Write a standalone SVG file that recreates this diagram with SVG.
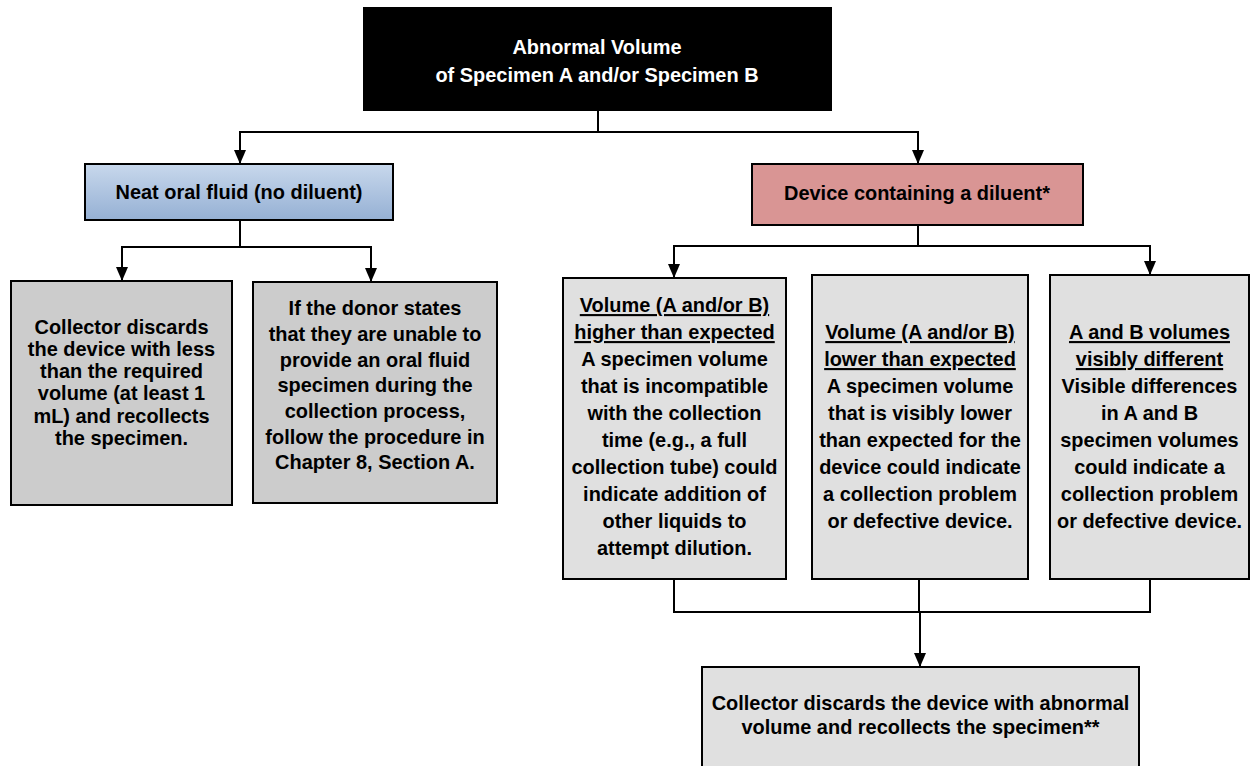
<svg xmlns="http://www.w3.org/2000/svg" width="1256" height="766" viewBox="0 0 1256 766">
<style>
.box{stroke:#000;stroke-width:2}
.t{font-family:"Liberation Sans",Arial,sans-serif;font-weight:bold;font-size:21px;text-anchor:middle;fill:#000}
.w{fill:#fff}
.u{text-decoration:underline}
.c{fill:none;stroke:#000;stroke-width:2}
.a{fill:none;stroke:#000;stroke-width:2;marker-end:url(#arr)}
</style>
<defs>
<linearGradient id="blue" x1="0" y1="0" x2="0" y2="1">
<stop offset="0" stop-color="#c8d8ec"/>
<stop offset="1" stop-color="#95b0d4"/>
</linearGradient>
<marker id="arr" markerUnits="userSpaceOnUse" markerWidth="14" markerHeight="14" viewBox="0 0 14 12" refX="14" refY="6" orient="auto">
<path d="M0,0 L14,6 L0,12 z" fill="#000"/>
</marker>
</defs>
<rect width="1256" height="766" fill="#fff"/>
<g id="connectors">
<path class="c" d="M598,110 V132 M240,132 H918"/>
<path class="a" d="M240,131 V164"/>
<path class="a" d="M918,131 V164"/>
<path class="c" d="M240,220 V247 M121,247 H372"/>
<path class="a" d="M122,246 V281"/>
<path class="a" d="M371,246 V282"/>
<path class="c" d="M918,225 V246 M673,246 H1151"/>
<path class="a" d="M674,245 V278"/>
<path class="a" d="M1150,245 V275"/>
<path class="c" d="M674,579 V612 M919,579 V612 M1150,579 V612 M673,612 H1151"/>
<path class="a" d="M920,611 V667"/>
</g>
<g id="n-top">
<rect class="box" x="364" y="8" width="467" height="102" fill="#000"/>
<g transform="translate(597,0) scale(0.95,1) translate(-597,0)">
<text class="t w" x="597" y="54">Abnormal Volume</text>
<text class="t w" x="597" y="82">of Specimen A and/or Specimen B</text>
</g>
</g>
<g id="n-neat">
<rect class="box" x="85" y="164" width="308" height="56" fill="url(#blue)"/>
<g transform="translate(239,0) scale(0.95,1) translate(-239,0)">
<text class="t" x="239" y="199">Neat oral fluid (no diluent)</text>
</g>
</g>
<g id="n-device">
<rect class="box" x="752" y="164" width="331" height="61" fill="#d99594"/>
<g transform="translate(917,0) scale(0.95,1) translate(-917,0)">
<text class="t" x="917" y="200">Device containing a diluent*</text>
</g>
</g>
<g id="n-discard-less">
<rect class="box" x="11" y="281" width="221" height="224" fill="#cccccc"/>
<g transform="translate(121.5,0) scale(0.95,1) translate(-121.5,0)">
<text class="t" x="121.5" y="334">Collector discards</text>
<text class="t" x="121.5" y="356">the device with less</text>
<text class="t" x="121.5" y="378">than the required</text>
<text class="t" x="121.5" y="400">volume (at least 1</text>
<text class="t" x="121.5" y="423">mL) and recollects</text>
<text class="t" x="121.5" y="445">the specimen.</text>
</g>
</g>
<g id="n-unable">
<rect class="box" x="253" y="282" width="244" height="221" fill="#cccccc"/>
<g transform="translate(375,0) scale(0.95,1) translate(-375,0)">
<text class="t" x="375" y="315">If the donor states</text>
<text class="t" x="375" y="341">that they are unable to</text>
<text class="t" x="375" y="367">provide an oral fluid</text>
<text class="t" x="375" y="392">specimen during the</text>
<text class="t" x="375" y="418">collection process,</text>
<text class="t" x="375" y="444">follow the procedure in</text>
<text class="t" x="375" y="469">Chapter 8, Section A.</text>
</g>
</g>
<g id="n-higher">
<rect class="box" x="563" y="278" width="223" height="301" fill="#e0e0e0"/>
<g transform="translate(674.5,0) scale(0.95,1) translate(-674.5,0)">
<text class="t u" x="674.5" y="312">Volume (A and/or B)</text>
<text class="t u" x="674.5" y="339">higher than expected</text>
<text class="t" x="674.5" y="366">A specimen volume</text>
<text class="t" x="674.5" y="393">that is incompatible</text>
<text class="t" x="674.5" y="420">with the collection</text>
<text class="t" x="674.5" y="447">time (e.g., a full</text>
<text class="t" x="674.5" y="474">collection tube) could</text>
<text class="t" x="674.5" y="501">indicate addition of</text>
<text class="t" x="674.5" y="528">other liquids to</text>
<text class="t" x="674.5" y="555">attempt dilution.</text>
</g>
</g>
<g id="n-lower">
<rect class="box" x="812" y="275" width="216" height="304" fill="#e0e0e0"/>
<g transform="translate(920,0) scale(0.95,1) translate(-920,0)">
<text class="t u" x="920" y="339">Volume (A and/or B)</text>
<text class="t u" x="920" y="366">lower than expected</text>
<text class="t" x="920" y="393">A specimen volume</text>
<text class="t" x="920" y="420">that is visibly lower</text>
<text class="t" x="920" y="447">than expected for the</text>
<text class="t" x="920" y="474">device could indicate</text>
<text class="t" x="920" y="501">a collection problem</text>
<text class="t" x="920" y="528">or defective device.</text>
</g>
</g>
<g id="n-different">
<rect class="box" x="1050" y="275" width="199" height="304" fill="#e0e0e0"/>
<g transform="translate(1149.5,0) scale(0.95,1) translate(-1149.5,0)">
<text class="t u" x="1149.5" y="339">A and B volumes</text>
<text class="t u" x="1149.5" y="366">visibly different</text>
<text class="t" x="1149.5" y="393">Visible differences</text>
<text class="t" x="1149.5" y="420">in A and B</text>
<text class="t" x="1149.5" y="447">specimen volumes</text>
<text class="t" x="1149.5" y="474">could indicate a</text>
<text class="t" x="1149.5" y="501">collection problem</text>
<text class="t" x="1149.5" y="528">or defective device.</text>
</g>
</g>
<g id="n-discard-abnormal">
<rect class="box" x="702" y="667" width="437" height="110" fill="#e0e0e0"/>
<g transform="translate(920.5,0) scale(0.95,1) translate(-920.5,0)">
<text class="t" x="920.5" y="710">Collector discards the device with abnormal</text>
<text class="t" x="920.5" y="734">volume and recollects the specimen**</text>
</g>
</g>
</svg>
